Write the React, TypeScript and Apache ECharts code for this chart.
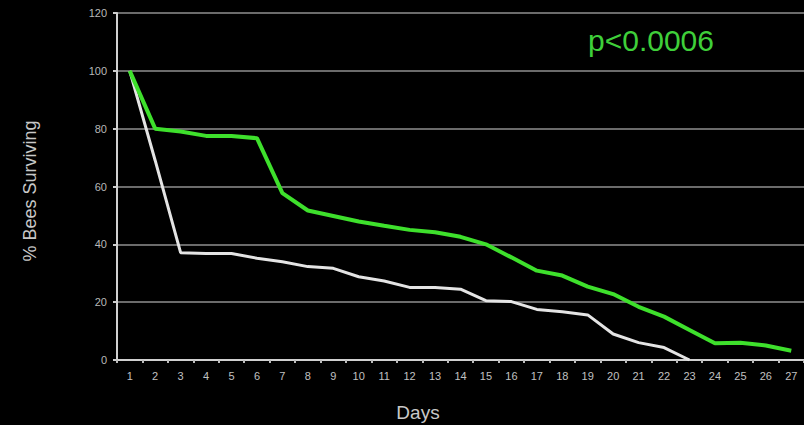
import React, { useEffect, useRef } from "react";
import * as echarts from "echarts";

const days = ["1","2","3","4","5","6","7","8","9","10","11","12","13","14","15","16","17","18","19","20","21","22","23","24","25","26","27"];
const treated = [100, 80, 79, 77.5, 77.5, 76.7, 57.7, 51.7, 49.8, 47.9, 46.4, 45, 44.2, 42.6, 40, 35.5, 30.9, 29.2, 25.4, 22.8, 18.4, 15, 10.4, 5.8, 6, 5, 3.2];
const control = [100, 69, 37.1, 36.8, 36.8, 35.2, 34, 32.3, 31.7, 28.8, 27.3, 25.1, 25.1, 24.5, 20.5, 20.2, 17.5, 16.7, 15.6, 9, 6, 4.3, 0, null, null, null, null];
const yTicks = { min: 0, max: 120, interval: 20 };
const pText = "p<0.0006";
const yTitle = "% Bees Surviving";
const xTitle = "Days";

export default function App() {
  const ref = useRef<HTMLDivElement>(null);
  useEffect(() => {
    const chart = echarts.init(ref.current!, null, { renderer: "svg" });
    chart.setOption({
      animation: false,
      backgroundColor: "#000",
      grid: { left: 117, top: 13, width: 690, height: 347 },
      xAxis: {
        type: "category",
        data: days,
        boundaryGap: true,
        axisLine: { lineStyle: { color: "#d0d0d0", width: 2 } },
        axisTick: { show: true, length: 3, lineStyle: { color: "#bbb", width: 2 } },
        axisLabel: { color: "#c0c0c0", fontSize: 11, margin: 10, fontFamily: "Liberation Sans" },
        splitLine: { show: false },
      },
      yAxis: {
        type: "value",
        min: yTicks.min,
        max: yTicks.max,
        interval: yTicks.interval,
        axisLine: { show: true, lineStyle: { color: "#d0d0d0", width: 2 } },
        axisTick: { show: true, length: 4, lineStyle: { color: "#ccc", width: 2 } },
        axisLabel: { color: "#b8b8b8", fontSize: 11, margin: 10, fontFamily: "Liberation Sans" },
        splitLine: { show: true, lineStyle: { color: "#8f8f8f", width: 1.5 } },
      },
      series: [
        {
          type: "line",
          data: control,
          symbol: "none",
          lineStyle: { color: "#e4e4e4", width: 3 },
          z: 2,
        },
        {
          type: "line",
          data: treated,
          symbol: "none",
          lineStyle: { color: "#3ee02c", width: 4 },
          z: 3,
        },
      ],
      graphic: [
        {
          type: "text",
          x: 651,
          y: 40,
          style: { text: pText, fill: "#3fcf3a", fontSize: 30, fontFamily: "Liberation Sans", align: "center", verticalAlign: "middle" },
        },
        {
          type: "text",
          x: 418,
          y: 412,
          style: { text: xTitle, fill: "#c8c8c8", fontSize: 19, fontFamily: "Liberation Sans", align: "center", verticalAlign: "middle" },
        },
        {
          type: "text",
          x: 30,
          y: 191,
          rotation: Math.PI / 2,
          style: { text: yTitle, fill: "#c8c8c8", fontSize: 18, fontFamily: "Liberation Sans", align: "center", verticalAlign: "middle" },
        },
      ],
    });
    return () => chart.dispose();
  }, []);
  return <div ref={ref} style={{ position: "fixed", left: 0, top: 0, width: 804, height: 425, background: "#000" }} />;
}
